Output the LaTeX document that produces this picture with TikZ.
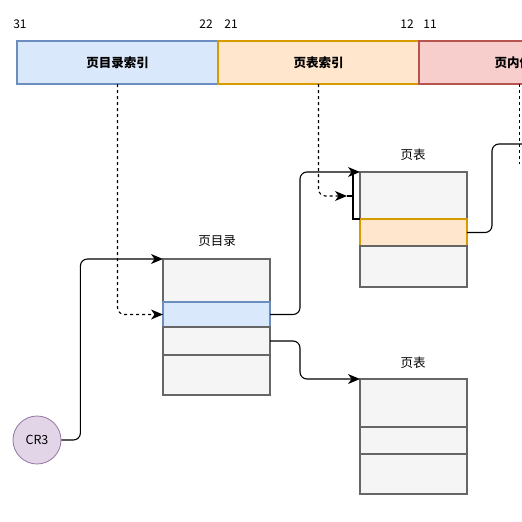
\documentclass[tikz,border=0pt]{standalone}
\usepackage{fontspec}
\setmainfont{Noto Sans CJK SC}
\usetikzlibrary{arrows.meta,calc}
\definecolor{grayfill}{HTML}{F5F5F5}
\definecolor{graydraw}{HTML}{666666}
\definecolor{bluefill}{HTML}{DAE8FC}
\definecolor{bluedraw}{HTML}{6C8EBF}
\definecolor{orfill}{HTML}{FFE6CC}
\definecolor{ordraw}{HTML}{D79B00}
\definecolor{redfill}{HTML}{F8CECC}
\definecolor{reddraw}{HTML}{B85450}
\definecolor{purfill}{HTML}{E1D5E7}
\definecolor{purdraw}{HTML}{9673A6}
\begin{document}
\begin{tikzpicture}[x=1pt,y=-1pt,
  cell/.style={draw=graydraw,fill=grayfill,line width=1.9pt,anchor=north west,inner sep=0pt,outer sep=0pt,minimum width=107pt},
  bluecell/.style={cell,draw=bluedraw,fill=bluefill},
  orcell/.style={cell,draw=ordraw,fill=orfill},
  seg/.style={line width=1.7pt,anchor=north west,inner sep=0pt,outer sep=0pt,minimum width=201pt,minimum height=43pt,font=\fontsize{12.5}{14}\selectfont\bfseries},
  num/.style={font=\fontsize{12}{14}\selectfont,inner sep=0pt},
  title/.style={font=\fontsize{12.5}{14}\selectfont,inner sep=0pt},
  conn/.style={line width=1.1pt,rounded corners=7pt,-{Stealth[length=12pt,width=10pt,inset=3.5pt,line width=0pt]}},
  dconn/.style={conn,dashed},
  plain/.style={line width=1.1pt}]
\useasboundingbox (0,0) rectangle (522,522);
\clip (0,0) rectangle (522,522);
% top register
\node[seg,draw=bluedraw,fill=bluefill] (s1) at (17,41) {页目录索引};
\node[seg,draw=ordraw,fill=orfill] (s2) at (218,41) {页表索引};
\node[seg,draw=reddraw,fill=redfill] (s3) at (419,41) {页内偏移};
\node[num] (n31) at (20,24) {31};
\node[num] (n22) at (206,24) {22};
\node[num] (n21) at (231,24) {21};
\node[num] (n12) at (407,24) {12};
\node[num] (n11) at (430,24) {11};
% page directory
\node[title] (pdt) at (217,241) {页目录};
\node[cell,minimum height=43pt] (pd1) at (163,259) {};
\node[bluecell,minimum height=25pt] (pd2) at (163,302) {};
\node[cell,minimum height=28pt] (pd3) at (163,327) {};
\node[cell,minimum height=40pt] (pd4) at (163,355) {};
% page table 1
\node[title] (t1t) at (413,155) {页表};
\node[cell,minimum height=47pt] (a1) at (360,172) {};
\node[orcell,minimum height=27pt] (a2) at (360,219) {};
\node[cell,minimum height=41pt] (a3) at (360,246) {};
% page table 2
\node[title] (t2t) at (413,363) {页表};
\node[cell,minimum height=48pt] (b1) at (360,379) {};
\node[cell,minimum height=27pt] (b2) at (360,427) {};
\node[cell,minimum height=40pt] (b3) at (360,454) {};
% CR3
\node[circle,draw=purdraw,fill=purfill,line width=0.8pt,minimum size=48pt,inner sep=0pt,font=\fontsize{12.5}{14}\selectfont] (cr3) at (37,440) {CR3};
% connectors
\draw[conn] (cr3.east) -- ++(19,0) |- (pd1.north west);
\draw[dconn] (s1.south) |- (pd2.west);
\draw[conn] (pd2.east) -- ++(30,0) |- (a1.north west);
\draw[conn] (pd3.east) -- ++(30,0) |- (b1.north west);
\coordinate (brk) at (353,196);
\coordinate (tip) at (347,196);
\draw[dconn] (s2.south) |- (tip);
\draw[plain] (tip) -- (brk);
\draw[plain] (a1.north west) ++(-7,0) -- (a2.north west -| brk) -- (a2.north west);
\draw[conn,-] (a2.east) -- ++(25,0) |- (540,144);
\draw[plain,dashed] (s3.south) -- ++(0,80);
\end{tikzpicture}
\end{document}
